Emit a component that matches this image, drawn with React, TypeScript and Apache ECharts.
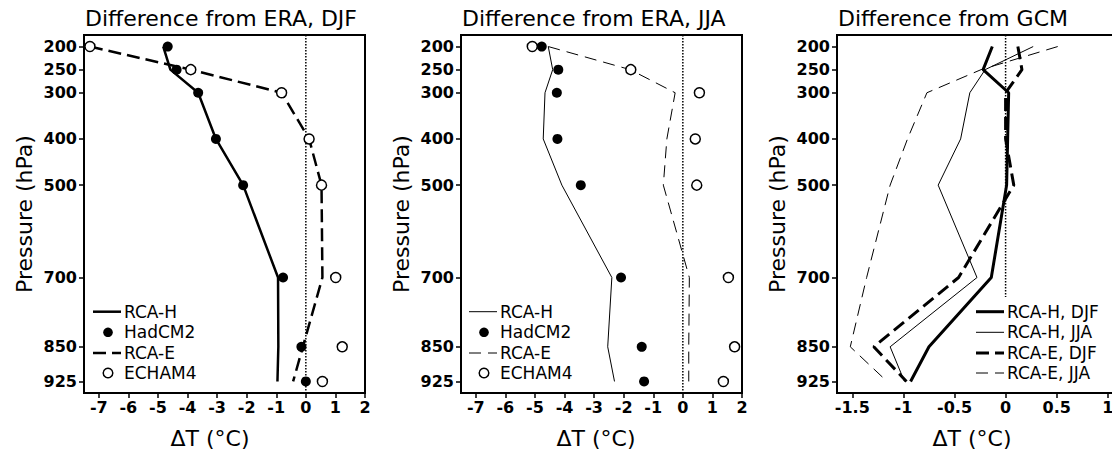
import React, { useEffect, useRef } from "react";
import * as echarts from "echarts";

// Pressure levels (hPa)
const PRESSURE = [200, 250, 300, 400, 500, 700, 850, 925];
const Y_TICKS = [200, 250, 300, 400, 500, 700, 850, 925];

// Panel 1: Difference from ERA, DJF (°C)
const DJF_RCA_H = [-4.82, -4.58, -3.64, -3.04, -2.12, -0.94, -0.93, -0.96];
const DJF_HADCM2 = [-4.67, -4.37, -3.64, -3.04, -2.12, -0.77, -0.15, 0.0];
const DJF_RCA_E = [-7.3, -3.89, -0.82, 0.11, 0.53, 0.56, -0.1, -0.43];
const DJF_ECHAM4 = [-7.3, -3.89, -0.82, 0.11, 0.53, 1.01, 1.23, 0.56];

// Panel 2: Difference from ERA, JJA (°C)
const JJA_RCA_H = [-4.55, -4.4, -4.66, -4.72, -4.09, -2.4, -2.54, -2.31];
const JJA_HADCM2 = [-4.77, -4.21, -4.26, -4.24, -3.45, -2.09, -1.39, -1.31];
const JJA_RCA_E = [-4.55, -1.78, -0.26, -0.54, -0.66, 0.22, 0.2, 0.2];
const JJA_ECHAM4 = [-5.09, -1.76, 0.56, 0.42, 0.47, 1.54, 1.75, 1.37];

// Panel 3: Difference from GCM (°C)
const GCM_RCA_H_DJF = [-0.13, -0.22, 0.03, 0.02, 0.01, -0.14, -0.75, -0.93];
const GCM_RCA_H_JJA = [0.27, -0.2, -0.35, -0.44, -0.66, -0.28, -1.13, -0.99];
const GCM_RCA_E_DJF = [0.12, 0.16, 0.0, 0.0, 0.08, -0.46, -1.29, -0.97];
const GCM_RCA_E_JJA = [0.51, -0.24, -0.77, -0.96, -1.13, -1.36, -1.52, -1.16];

const ERA_X_TICKS = [-7, -6, -5, -4, -3, -2, -1, 0, 1, 2];
const GCM_X_TICKS = [-1.5, -1, -0.5, 0, 0.5, 1];

const TITLES = ["Difference from ERA, DJF", "Difference from ERA, JJA", "Difference from GCM"];
const Y_NAME = "Pressure (hPa)";
const X_NAME = "ΔT (°C)";

// Legend entries per panel
const LEGEND_ERA = ["RCA-H", "HadCM2", "RCA-E", "ECHAM4"];
const LEGEND_GCM = ["RCA-H, DJF", "RCA-H, JJA", "RCA-E, DJF", "RCA-E, JJA"];

const FONT = "DejaVu Sans";

const pairs = (xs: number[]) => xs.map((x, i) => [x, PRESSURE[i]]);

const GRID_LEFTS = [84, 461, 837];
const GRID_TOP = 35;
const GRID_W = 281;
const GRID_H = 358;

const THICK_DASH = [13, 6];
const THIN_DASH = [12, 7];

type Mark = { kind: "line" | "dot" | "open"; width?: number; dash?: number[] | null };

export default function App() {
  const ref = useRef<HTMLDivElement>(null);

  useEffect(() => {
    if (!ref.current) return;
    const chart = echarts.init(ref.current, null, { renderer: "svg" });

    const xAxisBase = (idx: number, min: number, max: number, ticks: number[]) => ({
      type: "value",
      gridIndex: idx,
      min,
      max,
      splitLine: { show: false },
      axisLine: { show: true, onZero: false, lineStyle: { color: "#000", width: 2 } },
      axisTick: { show: true, length: 5, lineStyle: { color: "#000", width: 1.5 }, customValues: ticks },
      axisLabel: {
        customValues: ticks,
        margin: 6,
        color: "#000",
        fontFamily: FONT,
        fontWeight: "bold",
        fontSize: 16,
      },
    });

    const yAxisBase = (idx: number) => ({
      type: "value",
      gridIndex: idx,
      min: 175,
      max: 950,
      inverse: true,
      splitLine: { show: false },
      axisLine: { show: true, onZero: false, lineStyle: { color: "#000", width: 2 } },
      axisTick: { show: true, length: 5, lineStyle: { color: "#000", width: 1.5 }, customValues: Y_TICKS },
      axisLabel: {
        customValues: Y_TICKS,
        margin: 7,
        color: "#000",
        fontFamily: FONT,
        fontWeight: "bold",
        fontSize: 16,
      },
      name: Y_NAME,
      nameLocation: "middle",
      nameRotate: 90,
      nameGap: 49,
      nameTextStyle: { color: "#000", fontFamily: FONT, fontSize: 22 },
    });

    const zeroLine = (idx: number, bottom: number) => ({
      type: "line",
      name: "zero",
      xAxisIndex: idx,
      yAxisIndex: idx,
      data: [
        [0, 175],
        [0, bottom],
      ],
      symbol: "none",
      silent: true,
      lineStyle: { color: "#000", width: 1.5, type: [1.5, 1.5] },
      z: 1,
    });

    const lineSeries = (idx: number, name: string, vals: number[], width: number, dash: any) => ({
      type: "line",
      name,
      xAxisIndex: idx,
      yAxisIndex: idx,
      data: pairs(vals),
      symbol: "none",
      lineStyle: { color: "#000", width, type: dash, opacity: 1 },
      itemStyle: { color: "#000" },
      z: 2,
    });

    const dotSeries = (idx: number, name: string, vals: number[], open: boolean) => ({
      type: "scatter",
      name,
      xAxisIndex: idx,
      yAxisIndex: idx,
      data: pairs(vals),
      symbol: "circle",
      symbolSize: 10,
      itemStyle: open
        ? { color: "#fff", borderColor: "#000", borderWidth: 1.5, opacity: 1 }
        : { color: "#000", borderColor: "#000", borderWidth: 0, opacity: 1 },
      z: 3,
    });

    // Legend drawn as graphic marks + text
    const ROW_Y = [311.7, 332.3, 353, 373];
    const legendGraphics = (left: number, names: string[], marks: Mark[]) => {
      const out: any[] = [];
      names.forEach((name, i) => {
        const y = ROW_Y[i];
        const m = marks[i];
        if (m.kind === "line") {
          out.push({
            type: "line",
            silent: true,
            shape: { x1: left, y1: y, x2: left + 28, y2: y },
            style: { stroke: "#000", lineWidth: m.width, lineDash: m.dash || null },
          });
        } else {
          out.push({
            type: "circle",
            silent: true,
            shape: { cx: left + 15, cy: y, r: 4.8 },
            style:
              m.kind === "dot"
                ? { fill: "#000", stroke: "#000", lineWidth: 0 }
                : { fill: "#fff", stroke: "#000", lineWidth: 1.5 },
          });
        }
        out.push({
          type: "text",
          silent: true,
          x: left + 31,
          y,
          style: {
            text: name,
            fill: "#000",
            fontFamily: FONT,
            fontSize: 17,
            align: "left",
            verticalAlign: "middle",
          },
        });
      });
      return out;
    };

    const xNames = [210, 596, 972].map((x) => ({
      type: "text",
      x,
      y: 438,
      silent: true,
      style: {
        text: X_NAME,
        fill: "#000",
        fontFamily: FONT,
        fontSize: 22,
        align: "center",
        verticalAlign: "middle",
      },
    }));

    const option: any = {
      animation: false,
      backgroundColor: "#fff",
      title: TITLES.map((t, i) => ({
        text: t,
        left: GRID_LEFTS[i] + 1,
        top: 7,
        padding: 0,
        textStyle: { color: "#000", fontFamily: FONT, fontWeight: "normal", fontSize: 22 },
      })),
      grid: GRID_LEFTS.map((l) => ({
        left: l,
        top: GRID_TOP,
        width: GRID_W,
        height: GRID_H,
        show: true,
        borderColor: "#000",
        borderWidth: 2,
        backgroundColor: "transparent",
        containLabel: false,
        outerBoundsMode: "none",
      })),
      xAxis: [
        xAxisBase(0, -7.5, 2, ERA_X_TICKS),
        xAxisBase(1, -7.5, 2, ERA_X_TICKS),
        xAxisBase(2, -1.65, 1.1, GCM_X_TICKS),
      ],
      yAxis: [yAxisBase(0), yAxisBase(1), yAxisBase(2)],
      graphic: [
        ...xNames,
        ...legendGraphics(93, LEGEND_ERA, [
          { kind: "line", width: 2.5 },
          { kind: "dot" },
          { kind: "line", width: 2.5, dash: THICK_DASH },
          { kind: "open" },
        ]),
        ...legendGraphics(469, LEGEND_ERA, [
          { kind: "line", width: 1 },
          { kind: "dot" },
          { kind: "line", width: 1, dash: THIN_DASH },
          { kind: "open" },
        ]),
        ...legendGraphics(976, LEGEND_GCM, [
          { kind: "line", width: 3 },
          { kind: "line", width: 1 },
          { kind: "line", width: 3, dash: THICK_DASH },
          { kind: "line", width: 1, dash: THIN_DASH },
        ]),
      ],
      series: [
        zeroLine(0, 950),
        lineSeries(0, "RCA-H", DJF_RCA_H, 2.5, "solid"),
        lineSeries(0, "RCA-E", DJF_RCA_E, 2.5, THICK_DASH),
        dotSeries(0, "HadCM2", DJF_HADCM2, false),
        dotSeries(0, "ECHAM4", DJF_ECHAM4, true),

        zeroLine(1, 950),
        lineSeries(1, "RCA-H", JJA_RCA_H, 1, "solid"),
        lineSeries(1, "RCA-E", JJA_RCA_E, 1, THIN_DASH),
        dotSeries(1, "HadCM2", JJA_HADCM2, false),
        dotSeries(1, "ECHAM4", JJA_ECHAM4, true),

        zeroLine(2, 742),
        lineSeries(2, "RCA-H, DJF", GCM_RCA_H_DJF, 3, "solid"),
        lineSeries(2, "RCA-H, JJA", GCM_RCA_H_JJA, 1, "solid"),
        lineSeries(2, "RCA-E, DJF", GCM_RCA_E_DJF, 3, THICK_DASH),
        lineSeries(2, "RCA-E, JJA", GCM_RCA_E_JJA, 1, THIN_DASH),
      ],
    };

    chart.setOption(option);
    return () => chart.dispose();
  }, []);

  return (
    <div
      ref={ref}
      style={{ position: "absolute", left: 0, top: 0, width: 1112, height: 449, background: "#fff" }}
    />
  );
}
